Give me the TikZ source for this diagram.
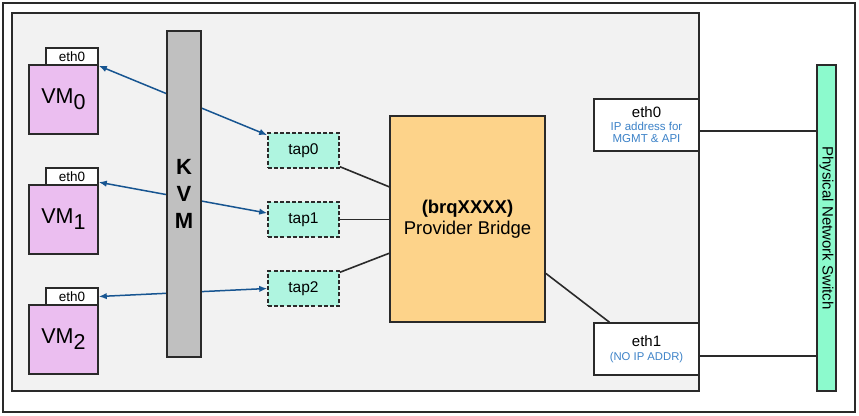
\documentclass[tikz,border=0pt]{standalone}
\usepackage{fontspec}
\setmainfont{Liberation Sans}
\usetikzlibrary{calc,arrows.meta}
\definecolor{hostbg}{HTML}{F2F2F2}
\definecolor{vmpink}{HTML}{EBBEF0}
\definecolor{kvmgray}{HTML}{C0C0C0}
\definecolor{tapmint}{HTML}{AFF5E0}
\definecolor{bridgeor}{HTML}{FDD38A}
\definecolor{switchgr}{HTML}{8CFACD}
\definecolor{arrowblue}{HTML}{175591}
\definecolor{textblue}{HTML}{3C82C8}
\definecolor{edgegray}{HTML}{2A2A2A}
\tikzset{
  box/.style={draw=edgegray, line width=1.6pt, inner sep=0pt, rectangle},
  vmbox/.style={box, fill=vmpink, minimum width=69pt, minimum height=69pt, font=\fontsize{21.5}{24}\selectfont},
  tabbox/.style={box, fill=white, minimum width=52pt, minimum height=17pt, font=\fontsize{13.5}{15}\selectfont},
  tapbox/.style={box, fill=tapmint, dash pattern=on 4pt off 2.2pt, minimum width=71pt, minimum height=35pt, font=\fontsize{15.5}{17}\selectfont},
  nicbox/.style={box, fill=white, minimum width=105pt, minimum height=52pt, align=center},
  vlink/.style={draw=arrowblue, line width=1.5pt, {Latex[length=8pt,width=6.5pt]}-{Latex[length=8pt,width=6.5pt]}},
  blink/.style={draw=edgegray, line width=1.6pt},
}
\begin{document}
\begin{tikzpicture}[x=1pt,y=-1pt]
\useasboundingbox (0,0) rectangle (859,415);
% frames
\node[draw=edgegray, line width=1.3pt, minimum width=852pt, minimum height=409pt, inner sep=0pt] (frame) at (429,207.5) {};
\node[box, fill=hostbg, minimum width=687pt, minimum height=378pt] (host) at (355.5,202) {};
% VMs
\node[tabbox] (tab0) at (72,56.5) {eth0};
\node[vmbox] (vm0) at (63.5,99.5) {VM\raisebox{-6pt}{0}};
\node[tabbox] (tab1) at (72,176.5) {eth0};
\node[vmbox] (vm1) at (63.5,219.5) {VM\raisebox{-6pt}{1}};
\node[tabbox] (tab2) at (72,296.5) {eth0};
\node[vmbox] (vm2) at (63.5,339.5) {VM\raisebox{-6pt}{2}};
% taps
\node[tapbox] (tap0) at (303.5,150.5) {tap0};
\node[tapbox] (tap1) at (303.5,219.5) {tap1};
\node[tapbox] (tap2) at (303.5,288.5) {tap2};
% links VM <-> tap (behind KVM)
\draw[vlink] (tab0.south east) -- (tap0.157);
\draw[vlink] (tab1.-12) -- (tap1.170);
\draw[vlink] (tab2.east) -- (tap2.west);
% KVM
\node[box, fill=kvmgray, minimum width=34pt, minimum height=326pt, align=center, font=\fontsize{22}{27}\selectfont\bfseries] (kvm) at (184,194) {K\\V\\M};
% bridge
\node[box, fill=bridgeor, minimum width=155pt, minimum height=206pt, align=center, font=\fontsize{18.5}{21}\selectfont] (bridge) at (467.5,219) {\textbf{(brqXXXX)}\\Provider Bridge};
% host NICs
\node[nicbox] (eth0r) at (646.5,125) {\fontsize{15}{16}\selectfont eth0\\[1pt]{\color{textblue}\fontsize{11.5}{12}\selectfont IP address for}\\{\color{textblue}\fontsize{11.5}{12}\selectfont MGMT \& API}};
\node[nicbox] (eth1r) at (646.5,349) {\fontsize{15}{16}\selectfont eth1\\[2pt]{\color{textblue}\fontsize{11.3}{12}\selectfont (NO IP ADDR)}};
% switch
\node[box, fill=switchgr, minimum width=19pt, minimum height=326pt] (switch) at (826.5,228) {};
\node[rotate=-90, font=\fontsize{15}{17}\selectfont, inner sep=0pt] (swlabel) at (switch.center) {Physical Network Switch};
% black links
\draw[blink] (tap0.-24) -- ($(bridge.north west)!0.345!(bridge.south west)$);
\draw[blink] (tap1.east) -- (bridge.west |- tap1.east);
\draw[blink] (tap2.24) -- ($(bridge.north west)!0.665!(bridge.south west)$);
\draw[blink] ($(bridge.north east)!0.762!(bridge.south east)$) -- ($(eth1r.north west)!0.152!(eth1r.north east)$);
\draw[blink] ($(eth0r.east)+(0,6)$) -- (switch.west |- {$(eth0r.east)+(0,6)$});
\draw[blink] ($(eth1r.east)+(0,7)$) -- (switch.west |- {$(eth1r.east)+(0,7)$});
\end{tikzpicture}
\end{document}
